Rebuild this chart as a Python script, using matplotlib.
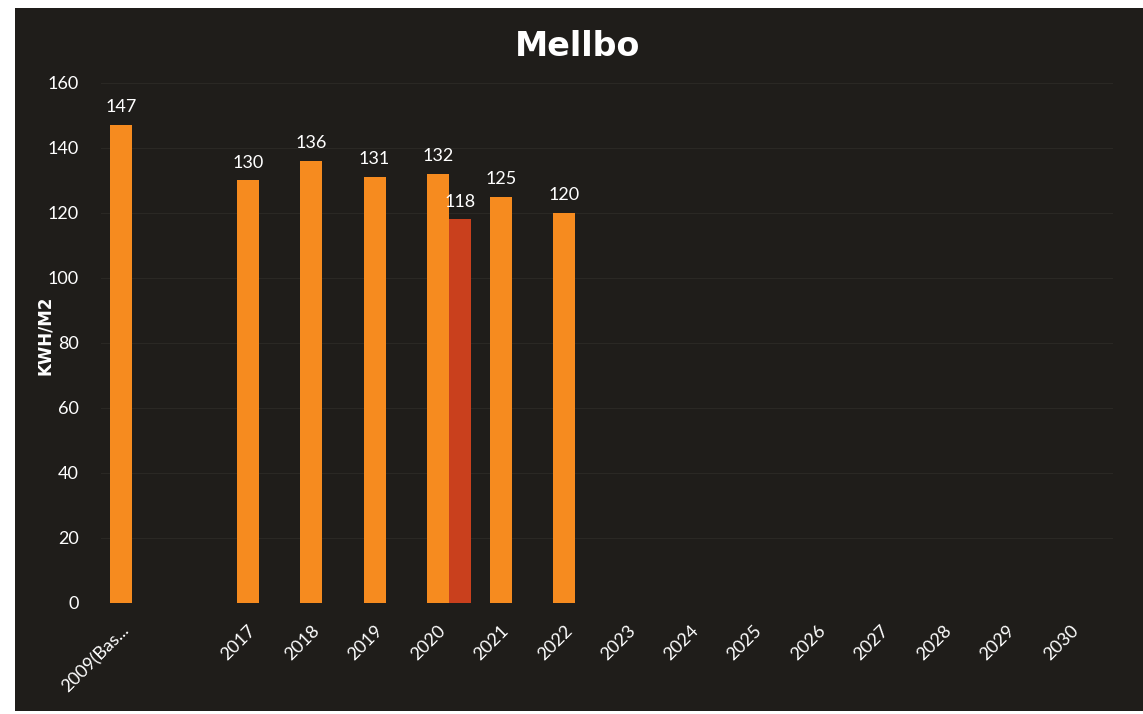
import numpy as np
import matplotlib
matplotlib.use('Agg')
import matplotlib.pyplot as plt
from matplotlib.patches import Rectangle

# Data
categories = ['2009(Bas...', '', '2017', '2018', '2019', '2020', '2021', '2022',
              '2023', '2024', '2025', '2026', '2027', '2028', '2029', '2030']
usage = [147, np.nan, 130, 136, 131, 132, 125, 120,
         np.nan, np.nan, np.nan, np.nan, np.nan, np.nan, np.nan, np.nan]
usage_corrected = [np.nan, np.nan, np.nan, np.nan, np.nan, 118, np.nan, np.nan,
                   np.nan, np.nan, np.nan, np.nan, np.nan, np.nan, np.nan, np.nan]
y_ticks = [0, 20, 40, 60, 80, 100, 120, 140, 160]

bg = '#1f1d1a'
orange = '#f68b1f'
red = '#c9401d'

plt.rcParams['font.family'] = ['Lato', 'DejaVu Sans']

fig = plt.figure(figsize=(11.43, 7.14), dpi=100, facecolor='white')
# dark panel with thin white margin (as in the screenshot)
fig.patches.append(Rectangle((15 / 1143, 3 / 714), 1 - 15 / 1143, 703 / 714,
                             transform=fig.transFigure, facecolor=bg,
                             edgecolor='none', zorder=-10))

ax = fig.add_axes([0.0882, 0.1555, 0.8856, 0.7283])
ax.set_facecolor('none')

x = np.arange(len(categories))
w = 0.347
b1 = ax.bar(x - w / 2, usage, width=w, color=orange, zorder=3)
b2 = ax.bar(x + w / 2, usage_corrected, width=w, color=red, zorder=3)

for bars, vals in ((b1, usage), (b2, usage_corrected)):
  for rect, v in zip(bars, vals):
    if np.isnan(v):
      continue
    ax.annotate(str(int(v)), (rect.get_x() + rect.get_width() / 2, v),
                xytext=(0, 7), textcoords='offset points',
                ha='center', va='bottom', color='white', fontsize=13)

ax.set_xlim(-0.5, len(categories) - 0.5)
ax.set_ylim(0, 160)
ax.set_yticks(y_ticks)
ax.set_yticklabels([str(t) for t in y_ticks])
ax.set_xticks(x)
ax.set_xticklabels(categories, rotation=45, ha='right')
ax.tick_params(axis='both', length=0, colors='white', labelsize=13)
ax.tick_params(axis='x', pad=14)
ax.tick_params(axis='y', pad=16)
ax.grid(axis='y', color='#2a2824', linewidth=0.8, zorder=0)
for s in ax.spines.values():
  s.set_visible(False)

fig.text(578 / 1143, 1 - 46 / 714, 'Mellbo', ha='center', va='center',
         color='white', fontsize=24, fontweight='bold', family='DejaVu Sans')
fig.text(45 / 1143, 1 - 335 / 714, 'KWH/M2', ha='center', va='center',
         rotation=90, color='white', fontsize=12, fontweight='bold',
         family='DejaVu Sans')

fig.savefig('out.png', dpi=100, facecolor='white')
